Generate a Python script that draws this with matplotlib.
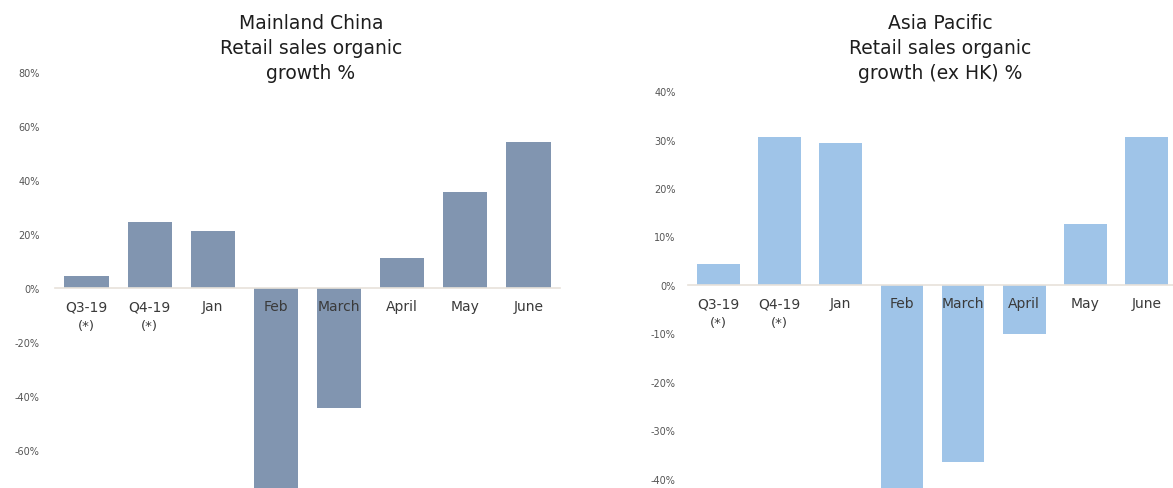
import matplotlib.pyplot as plt
from matplotlib.ticker import FuncFormatter

# periods shown on both panels
periods = ["Q3-19", "Q4-19", "Jan", "Feb", "March", "April", "May", "June"]
period_notes = ["(*)", "(*)", "", "", "", "", "", ""]

# retail sales organic growth, %
china_growth = [4.4, 24.3, 21.0, -80.0, -44.5, 11.1, 35.4, 54.1]
apac_growth = [4.4, 30.5, 29.3, -45.0, -36.5, -10.1, 12.6, 30.5]

china_ticks = [-60, -40, -20, 0, 20, 40, 60, 80]
apac_ticks = [-40, -30, -20, -10, 0, 10, 20, 30, 40]

china_title = "Mainland China\nRetail sales organic\ngrowth %"
apac_title = "Asia Pacific\nRetail sales organic\ngrowth (ex HK) %"

plt.rcParams["font.family"] = ["DejaVu Sans"]

W, H = 1173, 489
fig = plt.figure(figsize=(W / 100, H / 100), dpi=100)


def panel(rect, values, ylim, ticks, color, ypad):
    ax = fig.add_axes(rect)
    x = range(len(values))
    ax.bar(x, values, width=0.7, color=color, zorder=1)
    ax.set_xlim(-0.5, len(values) - 0.5)
    ax.set_ylim(*ylim)
    ax.set_yticks(ticks)
    ax.yaxis.set_major_formatter(FuncFormatter(lambda v, p: f"{v:.0f}%"))
    ax.set_xticks(list(x))
    ax.set_xticklabels(periods, fontsize=9.5)
    # footnote markers on a second line under the quarter labels
    for i, note in enumerate(period_notes):
        if note:
            ax.annotate(note, (i, 0), xytext=(0, -27), textcoords="offset points",
                        ha="center", va="center", fontsize=9.5, color="#3a3a3a")
    for s in ["top", "right", "left"]:
        ax.spines[s].set_visible(False)
    # zero line doubles as the category axis
    ax.spines["bottom"].set_position(("data", 0))
    ax.spines["bottom"].set_color("#e8e2da")
    ax.spines["bottom"].set_linewidth(1.2)
    ax.tick_params(axis="x", length=0, pad=8, labelcolor="#3a3a3a")
    ax.tick_params(axis="y", length=0, pad=ypad, labelsize=7, labelcolor="#555555")
    ax.set_facecolor("none")
    return ax


# left panel: 0% at y=289px, 20% per 54.1px
ax1 = panel([55 / W, 0, 505 / W, 1], china_growth, (-73.9, 106.8),
            china_ticks, "#8195b0", 11)
# right panel: 0% at y=286px, 10% per 48.5px
ax2 = panel([688 / W, 0, 489 / W, 1], apac_growth, (-41.9, 59.0),
            apac_ticks, "#9fc4e8", 9)

fig.text(311 / W, 1 - 49 / H, china_title, ha="center", va="center",
         fontsize=13.5, color="#1e1e1e", linespacing=1.4)
fig.text(940 / W, 1 - 49 / H, apac_title, ha="center", va="center",
         fontsize=13.5, color="#1e1e1e", linespacing=1.4)

fig.savefig("out.png", dpi=100)
